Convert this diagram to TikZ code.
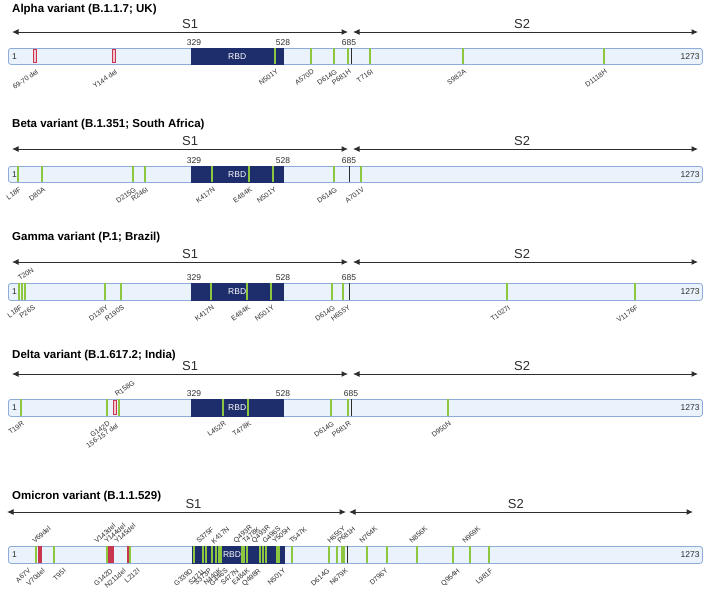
\documentclass[tikz,border=0pt]{standalone}
\usepackage{fontspec}
\setmainfont{Liberation Sans}
\usetikzlibrary{arrows.meta, positioning}
\definecolor{barFill}{HTML}{EAF2FB}
\definecolor{barEdge}{HTML}{8EABDA}
\definecolor{rbdBlue}{HTML}{1E2E6C}
\definecolor{mutGreen}{HTML}{8DC63F}
\definecolor{delRed}{HTML}{C8374F}
\definecolor{delPink}{HTML}{F5C6CF}
\definecolor{textDark}{HTML}{2D2D2D}

\begin{document}
\begin{tikzpicture}[x=1pt, y=-1pt,
    title/.style={anchor=west, inner sep=0pt, font=\fontsize{11.5}{13}\selectfont\bfseries},
    bar/.style={rectangle, draw=barEdge, fill=barFill, rounded corners=2.5pt, line width=0.8pt,
                minimum width=694pt, minimum height=#1, anchor=north west, inner sep=0pt},
    rbd/.style={rectangle, draw=rbdBlue, fill=rbdBlue, minimum width=92pt, minimum height=#1,
                anchor=north west, inner sep=0pt, text=white, font=\fontsize{8.5}{10}\selectfont},
    spanarrow/.style={{Latex[length=6.5pt,width=6pt]}-{Latex[length=6.5pt,width=6pt]},
                   line width=1pt, draw=textDark},
    dname/.style={anchor=south, inner sep=2.5pt, text=textDark, font=\fontsize{13}{15}\selectfont},
    resnum/.style={anchor=south, inner sep=1pt, text=textDark, font=\fontsize{8.5}{10}\selectfont},
    ends/.style={inner sep=1pt, text=textDark, font=\fontsize{8.5}{10}\selectfont},
    mut/.style={draw=mutGreen, line width=1.1pt},
    del/.style={draw=delRed, fill=delPink, line width=0.6pt},
    odel/.style={draw=delRed, line width=1.2pt},
    cut/.style={draw=textDark, line width=1pt},
    lbl/.style={inner sep=0.5pt, text=textDark, font=\fontsize{7}{8}\selectfont, rotate=#1},
    lbl/.default=35,
    mutb/.style={lbl=#1, anchor=north east},
    mutb/.default=35,
    muta/.style={lbl=#1, anchor=south west},
    muta/.default=35,
  ]
    \useasboundingbox (0,0) rectangle (709,595);

    \node[title] (tA) at (12,10) {Alpha variant (B.1.1.7; UK)};
    \coordinate (A1) at (12,32);  \coordinate (A2) at (348,32);
    \coordinate (A3) at (353,32); \coordinate (A4) at (698,32);
    \draw[spanarrow] (A1) -- node[dname, pos=0.53] (s1A) {S1} (A2);
    \draw[spanarrow] (A3) -- node[dname, pos=0.49] (s2A) {S2} (A4);
    \node[bar=16pt] (barA) at (8,48) {};
    \node[rbd=16pt] (rbdA) at (191,48) {RBD};
    \node[ends, anchor=west, xshift=3pt] (oneA) at (barA.west) {1};
    \node[ends, anchor=east, xshift=-2pt] (endA) at (barA.east) {1273};
    \foreach \x/\n in {194/329, 283/528, 349/685}
      {\node[resnum] (nA\n) at (\x,47) {\n};}
    \foreach \x/\t in {35/69-70 del, 114/Y144 del}{
      \draw[del] (\x-1.5,49.5) rectangle (\x+1.5,62.5);
      \node[mutb] (mA\x) at (\x+1,68) {\t};}
    \foreach \x/\t in {275/N501Y, 311/A570D, 334/D614G, 348/P681H, 370/T716I, 463/S982A, 604/D1118H}{
      \draw[mut] (\x,48) -- (\x,64);
      \node[mutb] (mA\x) at (\x+1,68) {\t};}
    \draw[cut] (351,48) -- (351,64);

    \node[title] (tB) at (12,125) {Beta variant (B.1.351; South Africa)};
    \coordinate (B1) at (12,149);  \coordinate (B2) at (348,149);
    \coordinate (B3) at (353,149); \coordinate (B4) at (698,149);
    \draw[spanarrow] (B1) -- node[dname, pos=0.53] (s1B) {S1} (B2);
    \draw[spanarrow] (B3) -- node[dname, pos=0.49] (s2B) {S2} (B4);
    \node[bar=16pt] (barB) at (8,166) {};
    \node[rbd=16pt] (rbdB) at (191,166) {RBD};
    \node[ends, anchor=west, xshift=3pt] (oneB) at (barB.west) {1};
    \node[ends, anchor=east, xshift=-2pt] (endB) at (barB.east) {1273};
    \foreach \x/\n in {194/329, 283/528, 349/685}
      {\node[resnum] (nB\n) at (\x,165) {\n};}
    \foreach \x/\t in {18/L18F, 42/D80A, 133/D215G, 145/R246I, 212/K417N, 249/E484K, 273/N501Y, 334/D614G, 361/A701V}{
      \draw[mut] (\x,166) -- (\x,182);
      \node[mutb] (mB\x) at (\x+1,186) {\t};}
    \draw[cut] (349,166) -- (349,182);

    \node[title] (tC) at (12,238) {Gamma variant (P.1; Brazil)};
    \coordinate (C1) at (12,262);  \coordinate (C2) at (348,262);
    \coordinate (C3) at (353,262); \coordinate (C4) at (698,262);
    \draw[spanarrow] (C1) -- node[dname, pos=0.53] (s1C) {S1} (C2);
    \draw[spanarrow] (C3) -- node[dname, pos=0.49] (s2C) {S2} (C4);
    \node[bar=17pt] (barC) at (8,283) {};
    \node[rbd=17pt] (rbdC) at (191,283) {RBD};
    \node[ends, anchor=west, xshift=3pt] (oneC) at (barC.west) {1};
    \node[ends, anchor=east, xshift=-2pt] (endC) at (barC.east) {1273};
    \foreach \x/\n in {194/329, 283/528, 349/685}
      {\node[resnum] (nC\n) at (\x,282) {\n};}
    \foreach \x/\l/\t in {19/19/L18F, 25/32/P26S, 105/105/D138Y, 121/121/R190S, 211/211/K417N/T, 247/247/E484K,
                          271/271/N501Y, 332/332/D614G, 343/347/H655Y, 507/507/T1027I, 635/635/V1176F}{
      \draw[mut] (\x,283) -- (\x,300);
      \node[mutb] (mC\x) at (\l+1,304) {\t};}
    \draw[mut] (22,283) -- (22,300);
    \node[muta] (mC22) at (20,282) {T20N};
    \draw[cut] (349,283) -- (349,300);

    \node[title] (tD) at (12,356) {Delta variant (B.1.617.2; India)};
    \coordinate (D1) at (12,374);  \coordinate (D2) at (348,374);
    \coordinate (D3) at (353,374); \coordinate (D4) at (698,374);
    \draw[spanarrow] (D1) -- node[dname, pos=0.53] (s1D) {S1} (D2);
    \draw[spanarrow] (D3) -- node[dname, pos=0.49] (s2D) {S2} (D4);
    \node[bar=17pt] (barD) at (8,399) {};
    \node[rbd=17pt] (rbdD) at (191,399) {RBD};
    \node[ends, anchor=west, xshift=3pt] (oneD) at (barD.west) {1};
    \node[ends, anchor=east, xshift=-2pt] (endD) at (barD.east) {1273};
    \foreach \x/\n in {194/329, 283/528, 351/685}
      {\node[resnum] (nD\n) at (\x,398) {\n};}
    \draw[del] (113.5,400.5) rectangle (116.5,414.5);
    \node[mutb] (mD115) at (116,422) {156-157 del};
    \foreach \x/\t in {21/T19R, 107/G142D, 223/L452R, 248/T478K, 331/D614G, 348/P681R, 448/D950N}{
      \draw[mut] (\x,399) -- (\x,416);
      \node[mutb] (mD\x) at (\x+1,420) {\t};}
    \draw[mut] (119,399) -- (119,416);
    \node[muta] (mD119) at (117,398) {R158G};
    \draw[cut] (351,399) -- (351,416);

    \node[title] (tE) at (12,497) {Omicron variant (B.1.1.529)};
    \coordinate (E1) at (7,512);   \coordinate (E2) at (346,512);
    \coordinate (E3) at (349,512); \coordinate (E4) at (693,512);
    \draw[spanarrow] (E1) -- node[dname, pos=0.55] (s1E) {S1} (E2);
    \draw[spanarrow] (E3) -- node[dname, pos=0.485] (s2E) {S2} (E4);
    \node[bar=17pt] (barE) at (8,546) {};
    \node[rbd=17pt] (rbdE) at (192,546) {};
    \node[ends, anchor=west, xshift=3pt] (oneE) at (barE.west) {1};
    \node[ends, anchor=east, xshift=-2pt] (endE) at (barE.east) {1273};
    \foreach \x in {36, 54, 107, 130, 194, 203, 206, 212, 216, 219, 221, 242, 244, 247, 260, 263, 266, 277, 279,
                    292, 329, 337, 342, 344, 367, 387, 417, 453, 470, 489}
      {\draw[mut] (\x,546) -- (\x,563);}
    \foreach \x in {39, 41, 109, 111, 113, 128}
      {\draw[odel] (\x,546) -- (\x,563);}
    \draw[cut] (347,546) -- (347,563);
    \node[text=white, font=\fontsize{8.5}{10}\selectfont, inner sep=0pt] (rbdlE) at (232,554.5) {RBD};
    \foreach \x/\t in {28/A67V, 42/V70del, 63/T95I, 110/G142D, 123/N211del, 137/L212I, 190/G339D, 203/S371L,
                       209/S373P, 219/N440K, 225/G446S, 236/S477N, 247/E484K, 258/Q498R, 283/N501Y,
                       327/D614G, 345/N679K, 385/D796Y, 457/Q954H, 490/L981F}
      {\node[mutb=42] (eb\x) at (\x,567) {\t};}
    \foreach \x/\t in {35/V69del, 97/V143del, 107/Y144del, 117/Y145del, 199/S375F, 214/K417N, 237/Q493R,
                       245/T478K, 255/Q493R, 265/G496S, 275/Y505H, 292/T547K, 330/H655Y, 340/P681H,
                       362/N764K, 412/N856K, 465/N969K}
      {\node[muta=42] (ea\x) at (\x,545) {\t};}
\end{tikzpicture}
\end{document}
